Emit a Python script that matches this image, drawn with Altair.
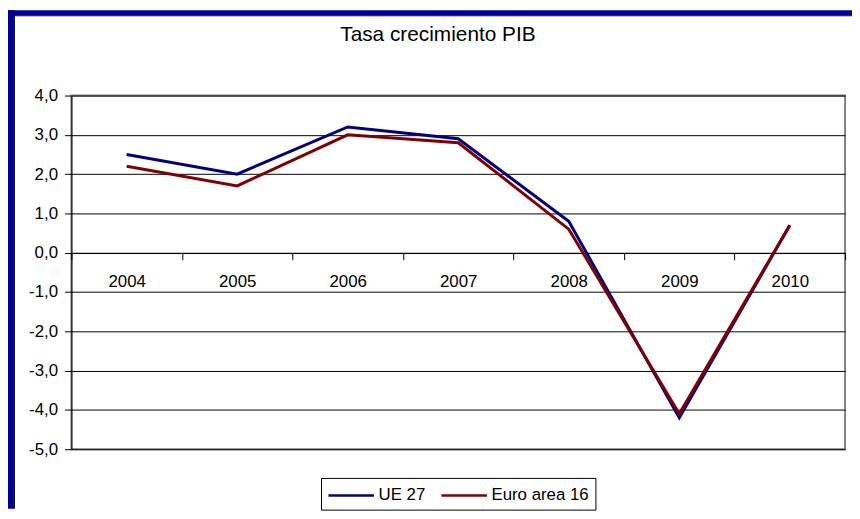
import altair as alt
import pandas as pd

years = ["2004", "2005", "2006", "2007", "2008", "2009", "2010"]
ue27 = [2.5, 2.0, 3.2, 2.9, 0.8, -4.2, 0.7]
euro16 = [2.2, 1.7, 3.0, 2.8, 0.6, -4.1, 0.7]
series_names = ["UE 27", "Euro area 16"]
series_colors = ["#000080", "#800000"]
y_ticks = [-5, -4, -3, -2, -1, 0, 1, 2, 3, 4]
title_text = "Tasa crecimiento PIB"

rows = []
for name, vals in zip(series_names, [ue27, euro16]):
    for yr, v in zip(years, vals):
        rows.append({"year": yr, "value": v, "serie": name, "order": series_names.index(name)})
df = pd.DataFrame(rows)

FONT = "Liberation Sans"
W, H = 781, 357
PL, PT, PR, PB = 64, 86, 7, 60

lines = alt.Chart(df).mark_line(strokeWidth=3).encode(
    x=alt.X(
        "year:O",
        sort=years,
        bandPosition=0.5,
        scale=alt.Scale(type="band", paddingInner=0, paddingOuter=0),
        axis=alt.Axis(
            title=None, labelAngle=0, tickBand="extent", offset=-198.3,
            domainColor="#000000", tickColor="#000000", tickSize=7,
            labelFont=FONT, labelFontSize=17, labelColor="#000000",
            labelBaseline="alphabetic", labelPadding=27, grid=False,
        ),
    ),
    y=alt.Y(
        "value:Q",
        scale=alt.Scale(domain=[-5, 4], nice=False, zero=False),
        axis=alt.Axis(
            title=None, values=y_ticks,
            labelExpr="replace(replace(format(datum.value, '.1f'), '.', ','), '\u2212', '-')",
            domainColor="#000000", tickColor="#000000", tickSize=7,
            labelFont=FONT, labelFontSize=17, labelColor="#000000", labelPadding=7,
            grid=True, gridColor="#000000", gridWidth=1,
        ),
    ),
    color=alt.Color(
        "serie:N",
        scale=alt.Scale(domain=series_names, range=series_colors),
        legend=alt.Legend(
            title=None, orient="none", direction="horizontal",
            legendX=252, legendY=386,
            strokeColor="#000000", fillColor="#ffffff", padding=6,
            symbolType="M-2.3,0H2.3", symbolStrokeWidth=2.5, symbolSize=400,
            symbolOffset=13,
            labelFont=FONT, labelFontSize=17, labelColor="#000000",
            labelOffset=16, columnPadding=10,
        ),
    ),
    order=alt.Order("order:Q"),
    detail="serie:N",
)

blank = alt.Data(values=[{}])

frame_top = alt.Chart(blank).mark_rect(color="#000099").encode(
    x=alt.value(-PL), x2=alt.value(W + PR), y=alt.value(-PT), y2=alt.value(-PT + 5)
)
frame_top_line = alt.Chart(blank).mark_rect(color="#000000").encode(
    x=alt.value(-PL + 6), x2=alt.value(W + PR), y=alt.value(-PT + 5), y2=alt.value(-PT + 6)
)
frame_left = alt.Chart(blank).mark_rect(color="#000099").encode(
    x=alt.value(-PL), x2=alt.value(-PL + 6), y=alt.value(-PT), y2=alt.value(H + PB)
)
frame_left_line = alt.Chart(blank).mark_rect(color="#000000").encode(
    x=alt.value(-PL + 6), x2=alt.value(-PL + 7), y=alt.value(-PT + 5), y2=alt.value(H + PB)
)

title = alt.Chart(blank).mark_text(
    font=FONT, fontSize=21, color="#000000", align="center", baseline="alphabetic"
).encode(
    x=alt.value(370), y=alt.value(-55), text=alt.value(title_text)
)

chart = alt.layer(
    lines, title, frame_top, frame_top_line, frame_left, frame_left_line
).properties(
    width=W, height=H,
    padding={"left": PL, "top": PT, "right": PR, "bottom": PB},
    autosize=alt.AutoSizeParams(type="none"),
    background="#ffffff",
).configure_view(
    stroke="#808080", strokeWidth=2
)

chart.save("out.html", embed_options={"renderer": "svg", "actions": False})
